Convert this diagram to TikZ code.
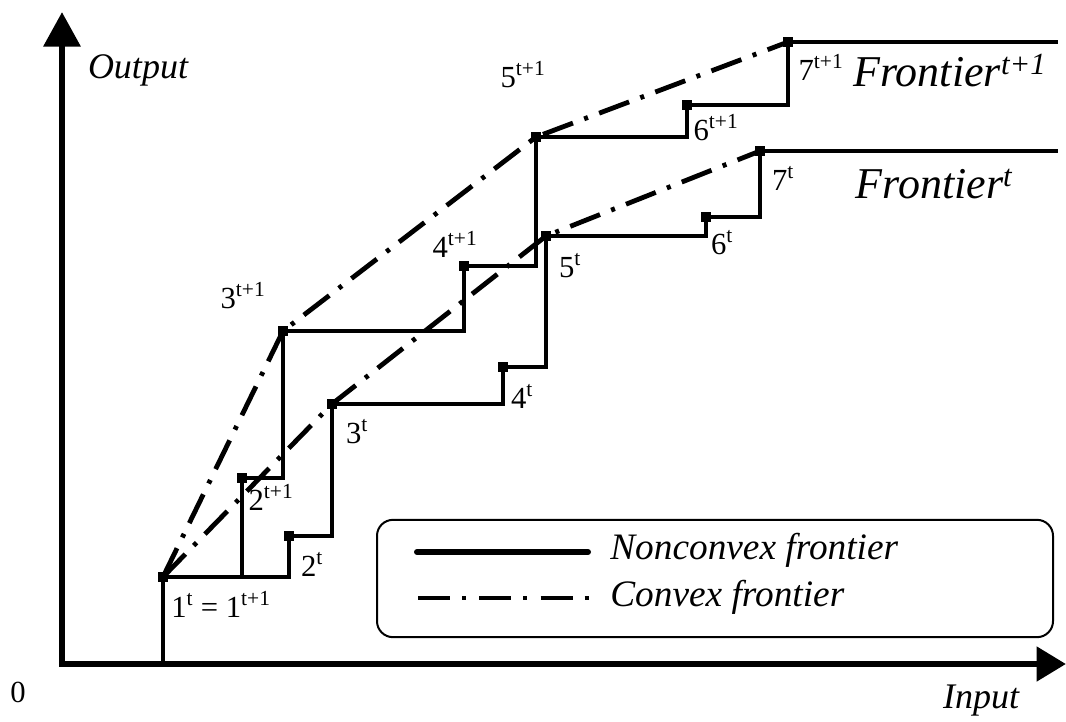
\documentclass[tikz,border=0pt]{standalone}
\usepackage{fontspec}
\setmainfont{Liberation Serif}
\usetikzlibrary{arrows.meta,positioning}

\begin{document}
\begin{tikzpicture}[
    x=0.75pt, y=-0.75pt,
    axis/.style={line width=5pt, {Triangle[length=26pt,width=27pt]}-{Triangle[length=22pt,width=25pt]}},
    stair/.style={line width=2.6pt},
    hull/.style={line width=3.6pt, dash pattern=on 24pt off 9pt on 3pt off 9pt},
    pt/.style={fill=black, inner sep=0pt, minimum size=7pt},
    lab/.style={font=\fontsize{23}{26}\selectfont, inner sep=0pt},
    big/.style={font=\fontsize{33}{38}\selectfont\itshape, inner sep=0pt},
    axlab/.style={font=\fontsize{27}{30}\selectfont\itshape, inner sep=0pt}
]
\useasboundingbox (0,0) rectangle (1066,721);

% axes
\coordinate (ytip) at (62,12);
\coordinate (xtip) at (1066,664);
\draw[axis] (ytip) |- (xtip);
\node[axlab] (outlab) at (138,70) {Output};
\node[axlab] (inlab) at (981,701) {Input};
\node[lab] (zero) at (18,692) {0};

% points of period t
\node[pt] (p1) at (163,577) {};
\node[pt] (p2) at (289,536) {};
\node[pt] (p3) at (332,404) {};
\node[pt] (p4) at (503,367) {};
\node[pt] (p5) at (546,236) {};
\node[pt] (p6) at (706,217) {};
\node[pt] (p7) at (760,151) {};
% points of period t+1
\node[pt] (q2) at (242,478) {};
\node[pt] (q3) at (283,331) {};
\node[pt] (q4) at (464,266) {};
\node[pt] (q5) at (536,137) {};
\node[pt] (q6) at (687,105) {};
\node[pt] (q7) at (788,42) {};

\coordinate (base) at (163,664);
\coordinate (endp) at (1058,151);
\coordinate (endq) at (1058,42);

% nonconvex frontiers
\draw[stair] (base) -- (p1.center) -| (p2.center) -| (p3.center) -| (p4.center)
    -| (p5.center) -| (p6.center) -| (p7.center) -- (endp);
\draw[stair] (p1.center) -| (q2.center) -| (q3.center) -| (q4.center)
    -| (q5.center) -| (q6.center) -| (q7.center) -- (endq);

% convex frontiers
\draw[hull] (p1.center) -- (p3.center) -- (p5.center) -- (p7.center);
\draw[hull] (p1.center) -- (q3.center) -- (q5.center) -- (q7.center);

% labels
\node[lab] (l1) at (221,604) {1\textsuperscript{t} = 1\textsuperscript{t+1}};
\node[lab] (l2) at (312,564) {2\textsuperscript{t}};
\node[lab] (l3) at (357,432) {3\textsuperscript{t}};
\node[lab] (l4) at (522,396) {4\textsuperscript{t}};
\node[lab] (l5) at (570,266) {5\textsuperscript{t}};
\node[lab] (l6) at (722,243) {6\textsuperscript{t}};
\node[lab] (l7) at (783,178) {7\textsuperscript{t}};
\node[lab] (m2) at (271,497) {2\textsuperscript{t+1}};
\node[lab] (m3) at (243,296) {3\textsuperscript{t+1}};
\node[lab] (m4) at (455,244) {4\textsuperscript{t+1}};
\node[lab] (m5) at (523,75) {5\textsuperscript{t+1}};
\node[lab] (m6) at (716,128) {6\textsuperscript{t+1}};
\node[lab] (m7) at (821,67) {7\textsuperscript{t+1}};
\node[big] (fq) at (950,71) {Frontier\textsuperscript{t+1}};
\node[big] (fp) at (934,184) {Frontier\textsuperscript{t}};

% legend
\node[draw, line width=1.5pt, rounded corners=12pt, minimum width=507pt, minimum height=88pt] (legend) at (715,578.5) {};
\coordinate (s1) at (417,552);
\coordinate (s2) at (588,552);
\coordinate (c1) at (418,598);
\coordinate (c2) at (590,598);
\draw[line width=4.5pt, line cap=round] (s1) -- (s2);
\draw[hull, dash pattern=on 24pt off 9pt on 3pt off 10pt] (c1) -- (c2);
\node[axlab, font=\fontsize{28}{30}\selectfont\itshape, anchor=west] (nclab) at (610,550) {Nonconvex frontier};
\node[axlab, font=\fontsize{28}{30}\selectfont\itshape, anchor=west] (cvlab) at (610,597) {Convex frontier};
\end{tikzpicture}
\end{document}
